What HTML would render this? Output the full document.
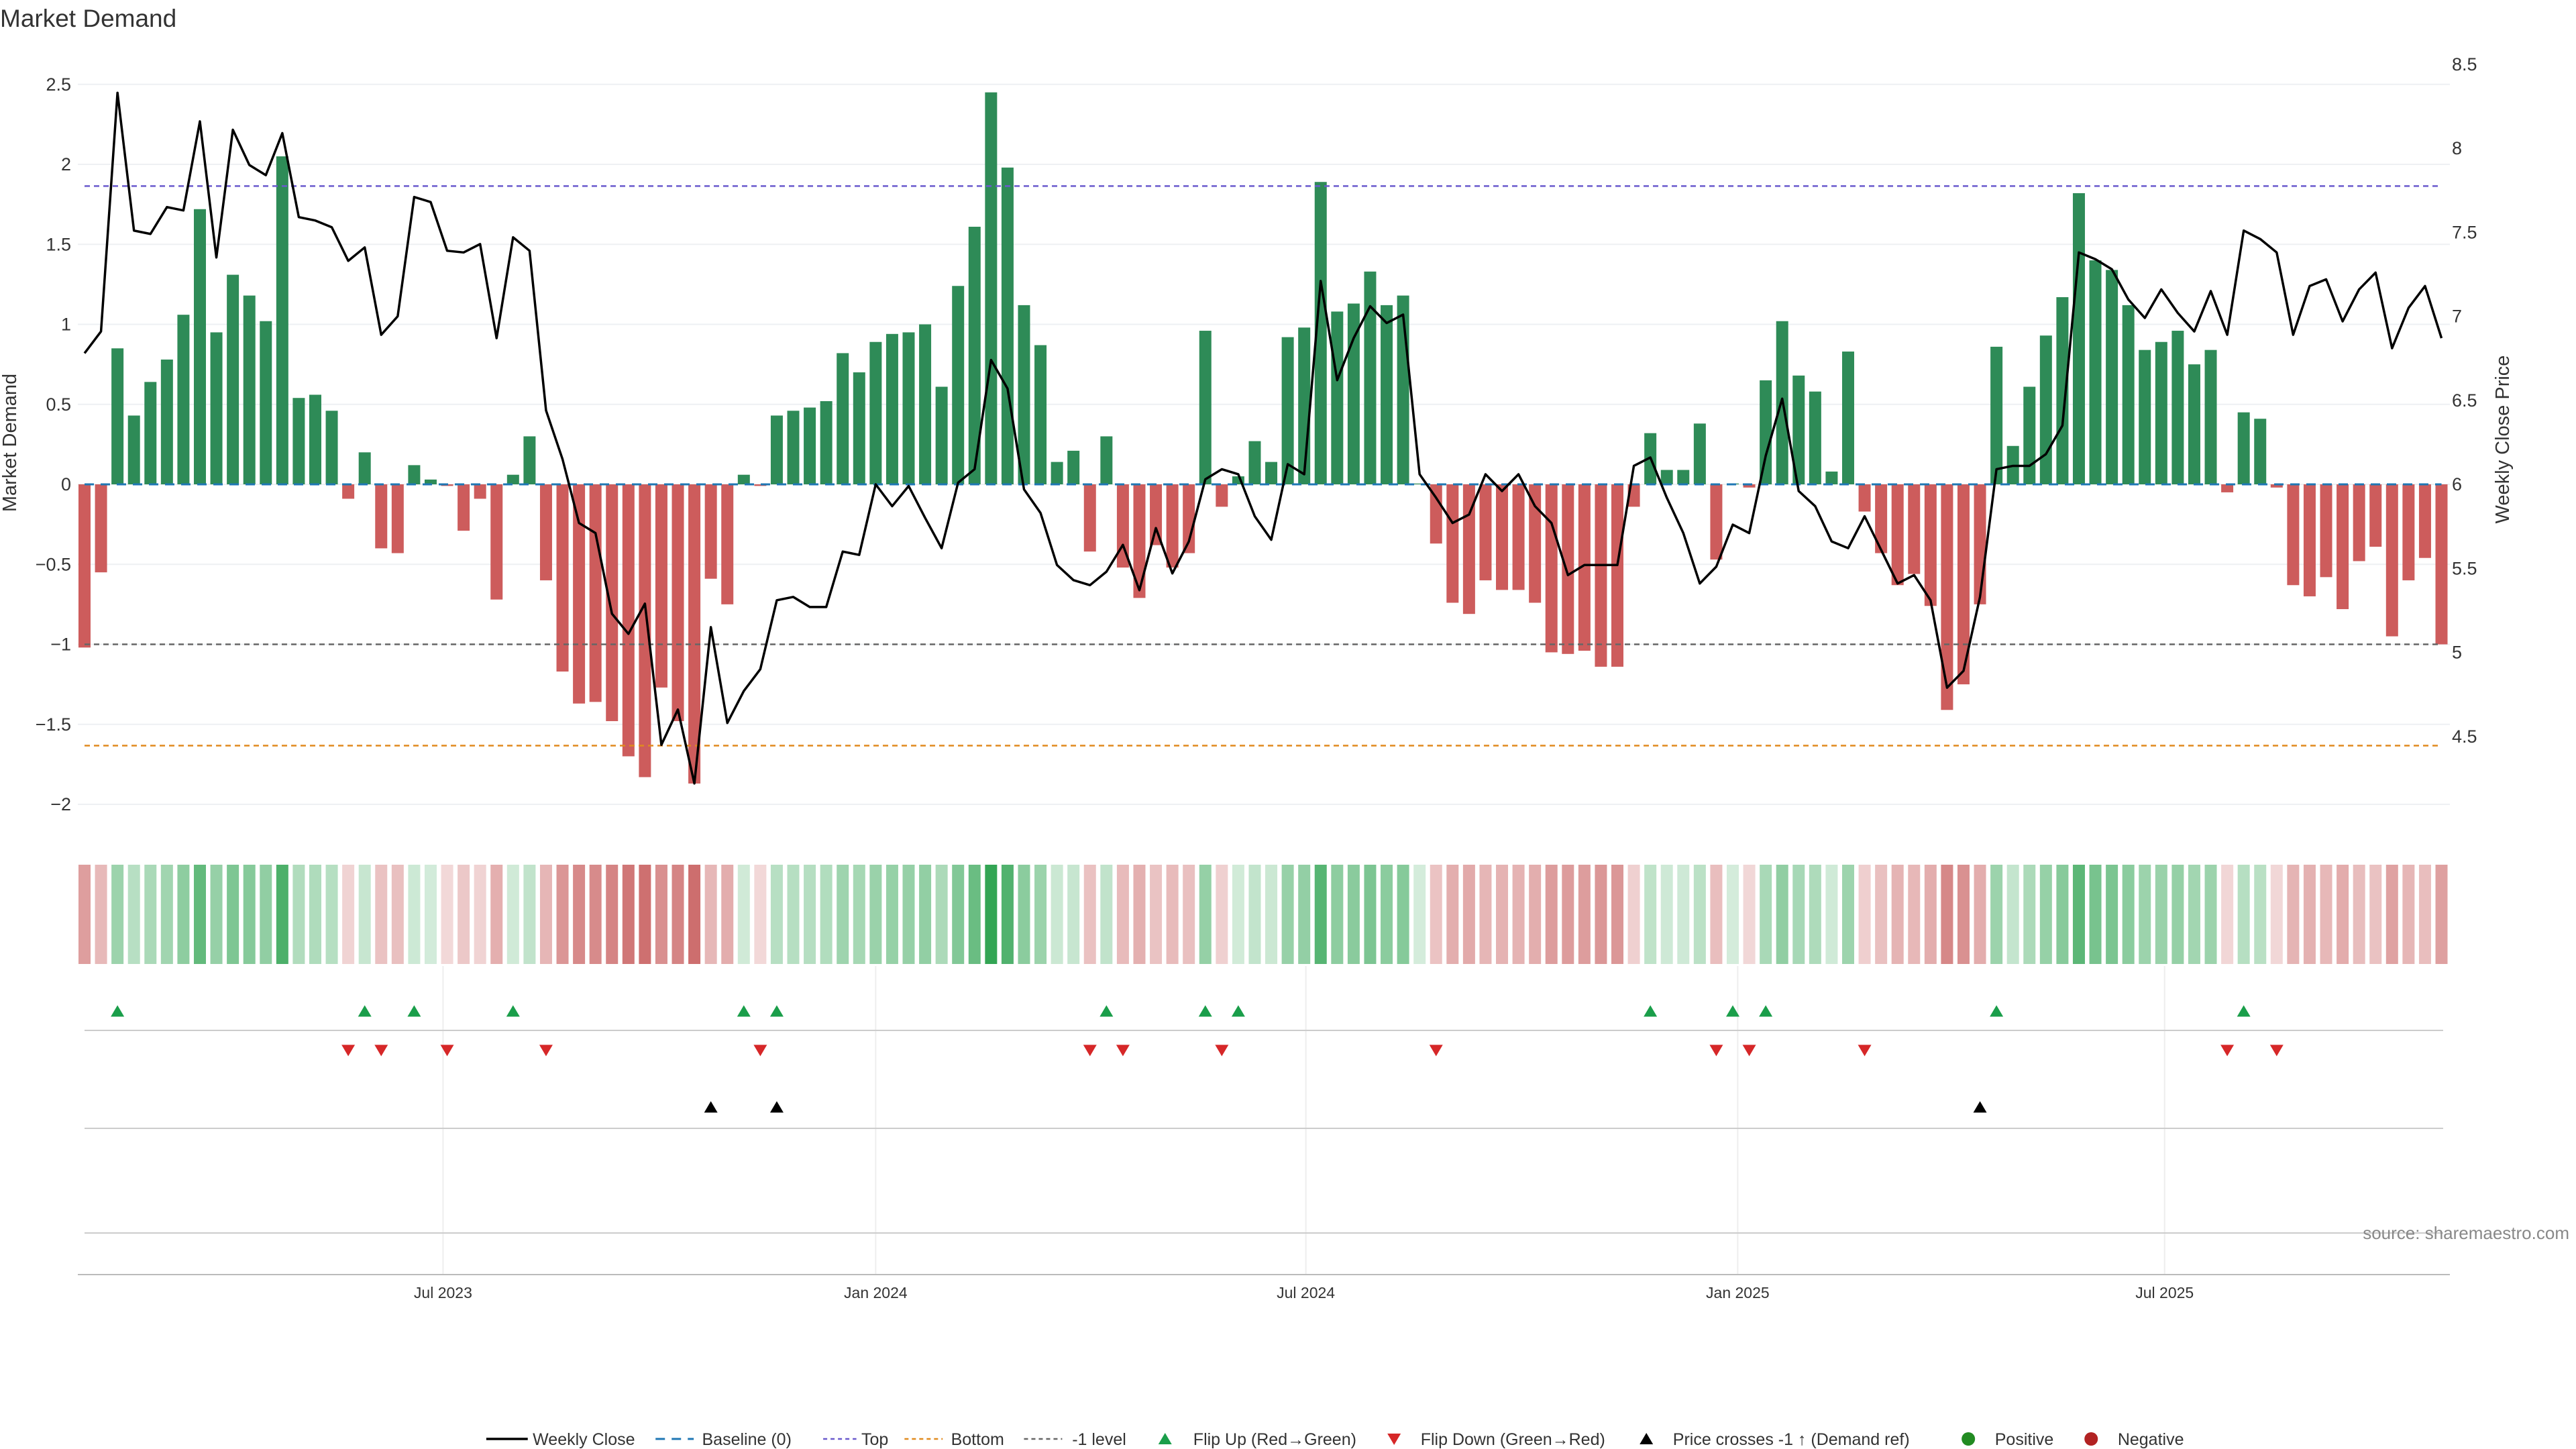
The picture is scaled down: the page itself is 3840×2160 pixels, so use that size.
<!DOCTYPE html>
<html><head><meta charset="utf-8"><style>
html,body{margin:0;padding:0;background:#fff;}
svg{display:block;font-family:"Liberation Sans","DejaVu Sans",sans-serif;}
</style></head><body>
<svg id="chart" width="3840" height="2160" viewBox="0 0 3840 2160" xmlns="http://www.w3.org/2000/svg">
<text x="0" y="40" font-size="37" fill="#333">Market Demand</text>
<g id="grid"></g>
<g id="bars"></g>
<g id="refs"></g>
<g id="line"></g>
<g id="strip"></g>
<g id="markers"></g>
<g id="axes"></g>
<text transform="translate(24,660) rotate(-90)" text-anchor="middle" font-size="29" fill="#333">Market Demand</text>
<text transform="translate(3740,655) rotate(-90)" text-anchor="middle" font-size="29" fill="#333">Weekly Close Price</text>
<text x="3830" y="1847" text-anchor="end" font-size="26" fill="#888">source: sharemaestro.com</text>
<g id="legend"></g>
</svg>
<script>
const demand = [-1.02,-0.55,0.85,0.43,0.64,0.78,1.06,1.72,0.95,1.31,1.18,1.02,2.05,0.54,0.56,0.46,-0.09,0.2,-0.40,-0.43,0.12,0.03,-0.01,-0.29,-0.09,-0.72,0.06,0.30,-0.60,-1.17,-1.37,-1.36,-1.48,-1.70,-1.83,-1.27,-1.48,-1.87,-0.59,-0.75,0.06,-0.01,0.43,0.46,0.48,0.52,0.82,0.70,0.89,0.94,0.95,1.00,0.61,1.24,1.61,2.45,1.98,1.12,0.87,0.14,0.21,-0.42,0.30,-0.52,-0.71,-0.38,-0.52,-0.43,0.96,-0.14,0.05,0.27,0.14,0.92,0.98,1.89,1.08,1.13,1.33,1.12,1.18,0.005,-0.37,-0.74,-0.81,-0.60,-0.66,-0.66,-0.74,-1.05,-1.06,-1.04,-1.14,-1.14,-0.14,0.32,0.09,0.09,0.38,-0.47,0.005,-0.02,0.65,1.02,0.68,0.58,0.08,0.83,-0.17,-0.43,-0.63,-0.56,-0.76,-1.41,-1.25,-0.75,0.86,0.24,0.61,0.93,1.17,1.82,1.40,1.34,1.12,0.84,0.89,0.96,0.75,0.84,-0.05,0.45,0.41,-0.02,-0.63,-0.70,-0.58,-0.78,-0.48,-0.39,-0.95,-0.60,-0.46,-1.0];
const closePrice = [6.78,6.91,8.33,7.51,7.49,7.65,7.63,8.16,7.35,8.11,7.90,7.84,8.09,7.59,7.57,7.53,7.33,7.41,6.89,7.00,7.71,7.68,7.39,7.38,7.43,6.87,7.47,7.39,6.44,6.15,5.77,5.71,5.23,5.11,5.29,4.45,4.66,4.22,5.15,4.58,4.77,4.90,5.31,5.33,5.27,5.27,5.60,5.58,6.00,5.87,5.99,5.80,5.62,6.01,6.09,6.74,6.57,5.97,5.83,5.52,5.43,5.40,5.48,5.64,5.37,5.74,5.47,5.66,6.03,6.09,6.06,5.81,5.67,6.12,6.06,7.21,6.62,6.87,7.06,6.96,7.01,6.06,5.92,5.77,5.82,6.06,5.96,6.06,5.87,5.77,5.46,5.52,5.52,5.52,6.11,6.16,5.92,5.71,5.41,5.51,5.76,5.71,6.17,6.51,5.96,5.87,5.66,5.62,5.81,5.61,5.41,5.46,5.31,4.79,4.89,5.33,6.09,6.11,6.11,6.18,6.35,7.38,7.34,7.28,7.10,6.99,7.16,7.02,6.91,7.15,6.89,7.51,7.46,7.38,6.89,7.18,7.22,6.97,7.16,7.26,6.81,7.05,7.18,6.87];
const leftTicks = [-2,-1.5,-1,-0.5,0,0.5,1,1.5,2,2.5];
const leftTickLabels = ["\u22122","\u22121.5","\u22121","\u22120.5","0","0.5","1","1.5","2","2.5"];
const rightTicks = [4.5,5,5.5,6,6.5,7,7.5,8,8.5];
const xTickPos = [21.75,48.0,74.1,100.3,126.2];
const xTickLabels = ["Jul 2023","Jan 2024","Jul 2024","Jan 2025","Jul 2025"];
const topLevel = 1.864;
const bottomLevel = -1.633;
const minusOneLevel = -1;
const crossIdx = [38,42,115];

const NS="http://www.w3.org/2000/svg";
function mk(parent,tag,attrs){const e=document.createElementNS(NS,tag);for(const k in attrs)e.setAttribute(k,attrs[k]);parent.appendChild(e);return e;}
const X0=126, DX=24.57, BW=18, PL=116, PR=3652;
const xs=i=>X0+i*DX;
const yL=v=>722-238.5*v;
const yR=p=>722-250.5*(p-6);
const G=id=>document.getElementById(id);

leftTicks.forEach((t,i)=>{
  const l=mk(G('grid'),'line',{x1:PL,x2:PR,y1:yL(t),y2:yL(t),stroke:'#eef0f3','stroke-width':2});
  
  
  const tx=mk(G('axes'),'text',{x:106,y:yL(t)+9,'text-anchor':'end','font-size':27,fill:'#333'});
  tx.textContent=leftTickLabels[i];
  
  
});
rightTicks.forEach(t=>{
  const tx=mk(G('axes'),'text',{x:3655,y:yR(t)+9,'font-size':27,fill:'#333'});
  tx.textContent=String(t);
  
  
});
xTickPos.forEach((p,i)=>{
  const x=xs(p);
  const l=mk(G('grid'),'line',{x1:x,x2:x,y1:1440,y2:1900,stroke:'#eeeeee','stroke-width':2});
  
  
  const tx=mk(G('axes'),'text',{x:x,y:1935,'text-anchor':'middle','font-size':23,fill:'#333'});
  tx.textContent=xTickLabels[i];
  
  
});
demand.forEach((v,i)=>{
  const y=Math.min(yL(0),yL(v)), h=Math.abs(yL(v)-yL(0));
  const r=mk(G('bars'),'rect',{x:xs(i)-BW/2,y:y,width:BW,height:Math.max(h,0.5),fill:v>=0?'#2e8b57':'#cd5c5c'});
  
  
});
[[0,'#1f77b4','14,10',3],[topLevel,'#6a5acd','8,6',2.5],[bottomLevel,'#e08a1e','8,6',2.5],[minusOneLevel,'#666','8,6',2.5]].forEach((d,i)=>{
  const l=mk(G('refs'),'line',{x1:X0,x2:xs(demand.length-1),y1:yL(d[0]),y2:yL(d[0]),stroke:d[1],'stroke-dasharray':d[2],'stroke-width':d[3]});
  
  
});
const pl=mk(G('line'),'polyline',{points:closePrice.map((p,i)=>xs(i)+','+yR(p)).join(' '),fill:'none',stroke:'#000','stroke-width':3.5,'stroke-linejoin':'round'});


demand.forEach((v,i)=>{
  const a=Math.abs(v);
  const fill=v>=0?`rgba(40,160,75,${0.2+0.75*Math.min(a/2.45,1)})`:`rgba(195,80,80,${0.22+0.62*Math.min(a/1.9,1)})`;
  const r=mk(G('strip'),'rect',{x:xs(i)-BW/2,y:1289,width:BW,height:148,fill:fill});
  
  
});
[[1536,'#ccc'],[1682,'#ccc'],[1838,'#ccc']].forEach(d=>{
  const l=mk(G('axes'),'line',{x1:X0,x2:3642,y1:d[0],y2:d[0],stroke:d[1],'stroke-width':2});
  
  
});
const ax=mk(G('axes'),'line',{x1:PL,x2:PR,y1:1900,y2:1900,stroke:'#bbb','stroke-width':2});


function tri(x,y,up,col,name){
  const s=10;
  const pts=up?`${x-s},${y+s*0.85} ${x+s},${y+s*0.85} ${x},${y-s*0.85}`:`${x-s},${y-s*0.85} ${x+s},${y-s*0.85} ${x},${y+s*0.85}`;
  const p=mk(G('markers'),'polygon',{points:pts,fill:col});
  
  
}
for(let i=1;i<demand.length;i++){
  if(demand[i-1]<0&&demand[i]>0) tri(xs(i),1507,true,'#1a9e4a','flip-up-marker');
  if(demand[i-1]>0&&demand[i]<0) tri(xs(i),1566,false,'#d62728','flip-down-marker');
}
crossIdx.forEach(i=>tri(xs(i),1650,true,'#000','price-cross-marker'));
const L=G('legend'), LY=2145, f=2.474;
function ltxt(x,t){const e=mk(L,'text',{x:x*f,y:LY+9,'font-size':25,fill:'#333'});e.textContent=t;}
function lline(x1,x2,col,dash,w){const e=mk(L,'line',{x1:x1*f,x2:x2*f,y1:LY,y2:LY,stroke:col,'stroke-width':w});if(dash)e.setAttribute('stroke-dasharray',dash);}
lline(293,318,'#000',null,3.5);ltxt(321,'Weekly Close');
lline(395,418,'#1f77b4','14,10',3);ltxt(423,'Baseline (0)');
lline(496,516,'#6a5acd','6,5',2.5);ltxt(519,'Top');
lline(545,568,'#e08a1e','6,5',2.5);ltxt(573,'Bottom');
lline(617,640,'#666','6,5',2.5);ltxt(646,'-1 level');
function ltri(x,up,col){const s=10,cx=x*f;const pts=up?`${cx-s},${LY+8} ${cx+s},${LY+8} ${cx},${LY-9}`:`${cx-s},${LY-8} ${cx+s},${LY-8} ${cx},${LY+9}`;const p=mk(L,'polygon',{points:pts,fill:col});}
ltri(702,true,'#1a9e4a');ltxt(719,'Flip Up (Red\u2192Green)');
ltri(840,false,'#d62728');ltxt(856,'Flip Down (Green\u2192Red)');
ltri(992,true,'#000');ltxt(1008,'Price crosses -1 \u2191 (Demand ref)');
[[1186,'#228b22','Positive'],[1260,'#b22222','Negative']].forEach(d=>{const c=mk(L,'circle',{cx:d[0]*f,cy:LY,r:10,fill:d[1]});ltxt(d[0]+16,d[2]);});
</script>
</body></html>
